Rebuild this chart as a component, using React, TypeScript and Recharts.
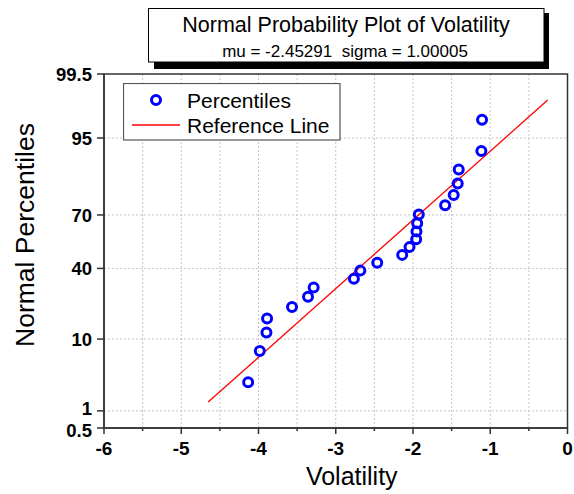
import React from 'react';
import {
  ScatterChart,
  Scatter,
  XAxis,
  YAxis,
  CartesianGrid,
  ReferenceArea,
  Legend,
} from 'recharts';

// Sorted volatility observations and their plotting percentiles (%)
const volatility = [
  -4.134, -3.983, -3.897, -3.889, -3.566, -3.359, -3.286, -2.765, -2.682, -2.463, -2.14,
  -2.045, -1.959, -1.955, -1.946, -1.925, -1.584, -1.473, -1.421, -1.408, -1.115, -1.106,
];
const percentiles = [
  2.81, 7.3, 11.8, 16.29, 20.79, 25.28, 29.78, 34.27, 38.76, 43.26, 47.75,
  52.25, 56.74, 61.24, 65.73, 70.22, 74.72, 79.21, 83.71, 88.2, 92.7, 97.19,
];

// Fitted normal parameters and the extent of the reference line
const mu = -2.45291;
const sigma = 1.00005;
const refLineVolatility = [-4.652, -0.256];

// Axis ticks
const xTicks = [-6, -5.5, -5, -4.5, -4, -3.5, -3, -2.5, -2, -1.5, -1, -0.5, 0];
const xGridValues = [-5.5, -5, -4.5, -4, -3.5, -3, -2.5, -2, -1.5, -1, -0.5];
const yTickPercents = [0.5, 1, 10, 40, 70, 95, 99.5];
const yTickLabels = ['0.5', '1', '10', '40', '70', '95', '99.5'];
const yGridPercents = [1, 10, 40, 70, 95];

const FONT = '"Liberation Sans", Arial, sans-serif';
const FRAME = '#333333';

// Inverse standard normal CDF (Acklam's rational approximation)
function probit(p: number): number {
  const a = [-39.69683028665376, 220.9460984245205, -275.9285104469687, 138.357751867269, -30.66479806614716, 2.506628277459239];
  const b = [-54.47609879822406, 161.5858368580409, -155.6989798598866, 66.80131188771972, -13.28068155288572];
  const c = [-0.007784894002430293, -0.3223964580411365, -2.400758277161838, -2.549732539343734, 4.374664141464968, 2.938163982698783];
  const d = [0.007784695709041462, 0.3224671290700398, 2.445134137142996, 3.754408661907416];
  const plow = 0.02425;
  if (p < plow) {
    const q = Math.sqrt(-2 * Math.log(p));
    return (((((c[0] * q + c[1]) * q + c[2]) * q + c[3]) * q + c[4]) * q + c[5]) /
      ((((d[0] * q + d[1]) * q + d[2]) * q + d[3]) * q + 1);
  }
  if (p > 1 - plow) {
    const q = Math.sqrt(-2 * Math.log(1 - p));
    return -(((((c[0] * q + c[1]) * q + c[2]) * q + c[3]) * q + c[4]) * q + c[5]) /
      ((((d[0] * q + d[1]) * q + d[2]) * q + d[3]) * q + 1);
  }
  const q = p - 0.5;
  const r = q * q;
  return (((((a[0] * r + a[1]) * r + a[2]) * r + a[3]) * r + a[4]) * r + a[5]) * q /
    (((((b[0] * r + b[1]) * r + b[2]) * r + b[3]) * r + b[4]) * r + 1);
}

const zOf = (pct: number) => probit(pct / 100);

const pointData = volatility.map((v, i) => ({ x: v, z: zOf(percentiles[i]) }));
const lineData = refLineVolatility.map((v) => ({ x: v, z: (v - mu) / sigma }));

const yTicks = yTickPercents.map(zOf);
const yGrid = yGridPercents.map(zOf);
const zMin = yTicks[0];
const zMax = yTicks[yTicks.length - 1];

const yTickIndex = (z: number) => {
  let best = 0;
  yTicks.forEach((t, i) => {
    if (Math.abs(t - z) < Math.abs(yTicks[best] - z)) best = i;
  });
  return best;
};

// the two lowest labels sit close together, so spread them apart a little
const yLabelNudge: Record<string, number> = { '0.5': 2, '1': -2.5 };

const XTick = (props: any) => {
  const { x, y, payload } = props;
  const v = payload.value as number;
  const major = Number.isInteger(v);
  return (
    <g>
      <line x1={x} x2={x} y1={y} y2={y + (major ? 6 : 3)} stroke={FRAME} strokeWidth={1.5} />
      {major && (
        <text x={x} y={y + 27} textAnchor="middle" fontFamily={FONT} fontSize={19} fontWeight={700} fill="#000">
          {v}
        </text>
      )}
    </g>
  );
};

const YTick = (props: any) => {
  const { x, y, payload } = props;
  const label = yTickLabels[yTickIndex(payload.value)];
  const nudge = yLabelNudge[label] ?? 0;
  return (
    <text
      x={x}
      y={y + nudge}
      dy="0.36em"
      textAnchor="end"
      fontFamily={FONT}
      fontSize={18.5}
      fontWeight={700}
      fill="#000"
    >
      {label}
    </text>
  );
};

const CircleMarker = (props: any) => {
  const { cx, cy } = props;
  return <circle cx={cx} cy={cy} r={4.5} fill="none" stroke="#0000ff" strokeWidth={3} />;
};

const NoMarker = () => <g />;

const LegendBox = () => (
  <svg width={220} height={60} style={{ display: 'block' }}>
    <rect x={0.5} y={0.5} width={216.5} height={56.5} fill="#ffffff" stroke="#555555" strokeWidth={1.2} />
    <circle cx={33} cy={17} r={4.5} fill="none" stroke="#0000ff" strokeWidth={3} />
    <text x={64} y={17} dominantBaseline="central" fontFamily={FONT} fontSize={21} fill="#000">
      Percentiles
    </text>
    <line x1={9} x2={57} y1={42} y2={42} stroke="#ff0000" strokeWidth={1.3} />
    <text x={64} y={42} dominantBaseline="central" fontFamily={FONT} fontSize={21} fill="#000">
      Reference Line
    </text>
  </svg>
);

const XAxisTitle = (props: any) => {
  const { viewBox } = props;
  const cx = viewBox.x + viewBox.width / 2 + 16;
  return (
    <text x={cx} y={485} textAnchor="middle" fontFamily={FONT} fontSize={25} fill="#000">
      Volatility
    </text>
  );
};

const YAxisTitle = () => (
  <text
    x={25}
    y={235}
    transform="rotate(-90 25 235)"
    textAnchor="middle"
    dominantBaseline="central"
    fontFamily={FONT}
    fontSize={26.5}
    fill="#000"
  >
    Normal Percentiles
  </text>
);

export default function App() {
  return (
    <div style={{ position: 'absolute', left: 0, top: 0, width: 574, height: 494, background: '#fff' }}>
      <ScatterChart width={574} height={494} margin={{ top: 74, right: 6.5, bottom: 26, left: 0 }}>
        <CartesianGrid
          stroke="#c4c4c4"
          strokeDasharray="2 2"
          horizontalValues={yGrid}
          verticalValues={xGridValues}
        />
        <XAxis
          type="number"
          dataKey="x"
          domain={[-6, 0]}
          ticks={xTicks}
          interval={0}
          height={40}
          tickSize={0}
          tickMargin={0}
          tickLine={false}
          tick={<XTick />}
          axisLine={{ stroke: FRAME, strokeWidth: 1.5 }}
          label={<XAxisTitle />}
        />
        <YAxis
          type="number"
          dataKey="z"
          domain={[zMin, zMax]}
          ticks={yTicks}
          interval={0}
          width={104}
          tickSize={7}
          tickMargin={5}
          tick={<YTick />}
          tickLine={{ stroke: FRAME, strokeWidth: 1.5 }}
          axisLine={{ stroke: FRAME, strokeWidth: 1.5 }}
          label={<YAxisTitle />}
        />
        <ReferenceArea x1={-6} x2={0} y1={zMin} y2={zMax} fill="none" fillOpacity={0} stroke={FRAME} strokeWidth={1.5} />
        <Scatter
          name="Reference Line"
          data={lineData}
          line={{ stroke: '#ff0000', strokeWidth: 1.3 }}
          lineType="joint"
          shape={<NoMarker />}
          legendType="none"
          isAnimationActive={false}
        />
        <Scatter
          name="Percentiles"
          data={pointData}
          shape={<CircleMarker />}
          isAnimationActive={false}
        />
        <Legend
          layout="horizontal"
          verticalAlign="middle"
          align="center"
          wrapperStyle={{ left: 123, top: 82.5, width: 220, height: 60 }}
          content={<LegendBox />}
        />
      </ScatterChart>
      <svg
        width={574}
        height={80}
        style={{ position: 'absolute', left: 0, top: 0, pointerEvents: 'none' }}
      >
        <rect x={154} y={13} width={395} height={56} fill="#000" />
        <rect x={148.5} y={8.5} width={395.5} height={53.5} fill="#fff" stroke="#000" strokeWidth={1} />
        <text x={346} y={31.5} textAnchor="middle" fontFamily={FONT} fontSize={21.5} fill="#000">
          Normal Probability Plot of Volatility
        </text>
        <text
          x={345}
          y={56.5}
          textAnchor="middle"
          fontFamily={FONT}
          fontSize={17}
          fill="#000"
          style={{ whiteSpace: 'pre' }}
        >
          {'mu = -2.45291  sigma = 1.00005'}
        </text>
      </svg>
    </div>
  );
}
